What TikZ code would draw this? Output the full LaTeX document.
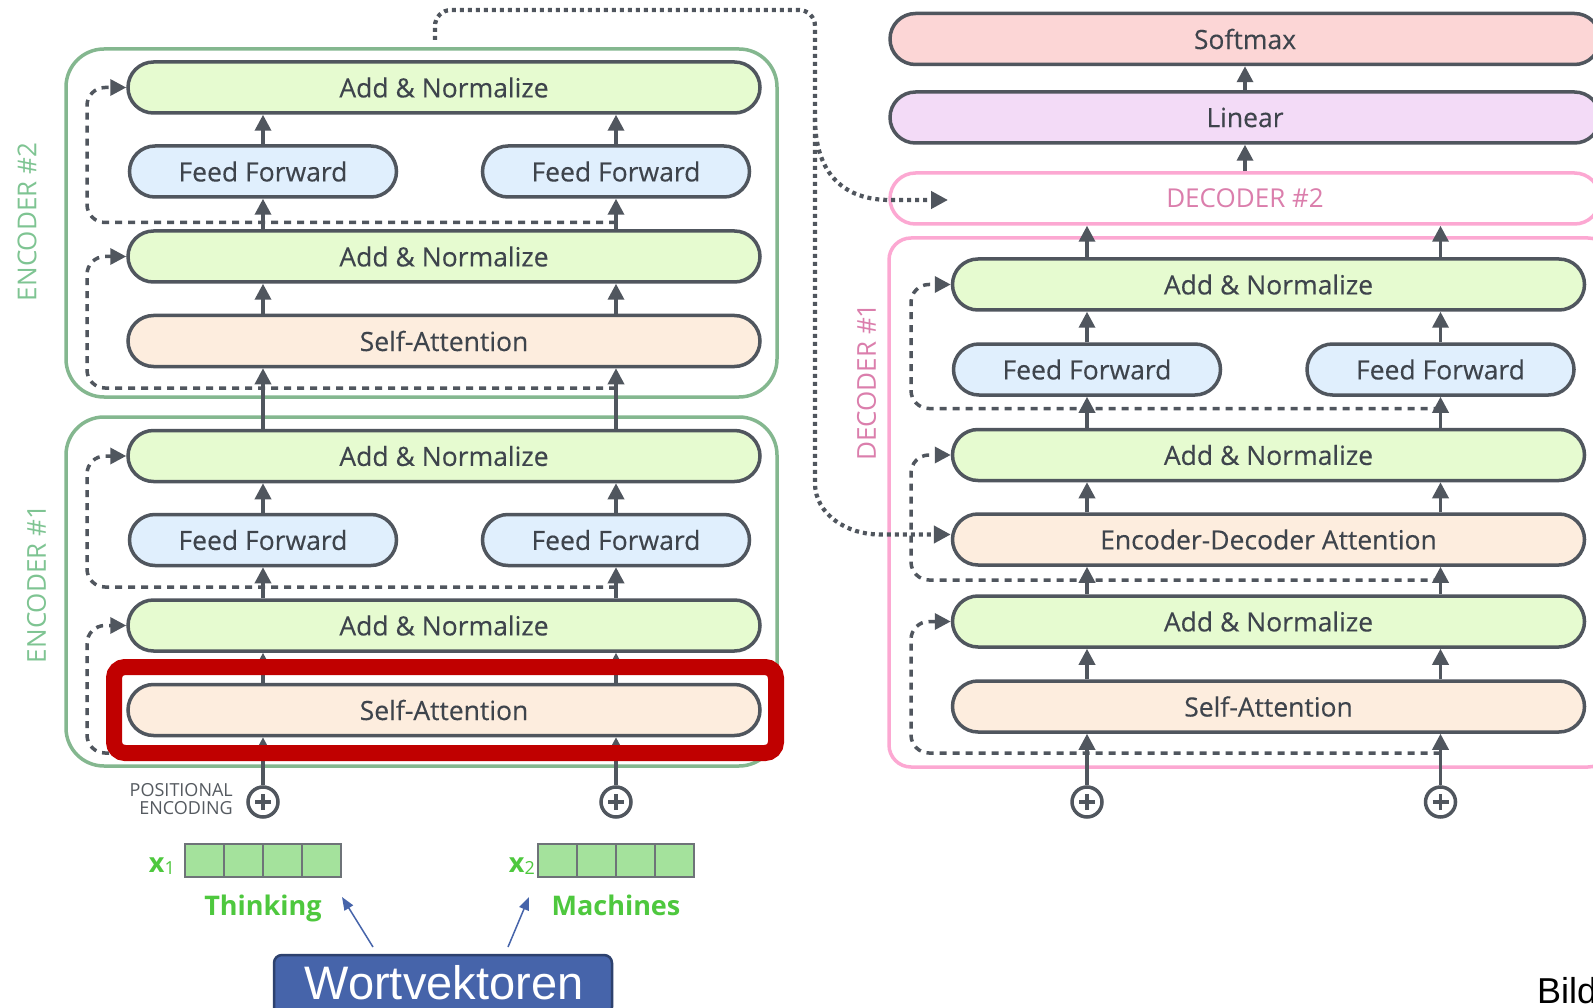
\documentclass[tikz,border=0pt]{standalone}
\usepackage{fontspec}
\setmainfont{Open Sans}
\newfontfamily\boxfont[FakeBold=0.25]{Open Sans}
\newfontfamily\arialfont{Liberation Sans}
\usetikzlibrary{shapes.misc,arrows.meta}
\definecolor{ink}{RGB}{80,86,94}
\definecolor{txt}{RGB}{62,68,76}
\definecolor{anfill}{RGB}{230,251,208}
\definecolor{fffill}{RGB}{224,239,253}
\definecolor{safill}{RGB}{253,237,222}
\definecolor{smfill}{RGB}{252,214,214}
\definecolor{linfill}{RGB}{243,219,247}
\definecolor{encgreen}{RGB}{132,183,143}
\definecolor{enctext}{RGB}{126,196,146}
\definecolor{decpink}{RGB}{252,168,210}
\definecolor{dectext}{RGB}{219,126,172}
\definecolor{redbox}{RGB}{192,0,0}
\definecolor{vecfill}{RGB}{164,226,156}
\definecolor{cellborder}{RGB}{110,115,120}
\definecolor{wordgreen}{RGB}{78,200,62}
\definecolor{wblue}{RGB}{70,100,170}
\definecolor{wborder}{RGB}{45,65,110}
\definecolor{poscol}{RGB}{85,90,96}
\begin{document}
\begin{tikzpicture}[x=1pt,y=-1pt,
  blk/.style={rounded rectangle, draw=ink, line width=3.5pt, minimum height=51pt, inner sep=0pt, text=txt, font=\boxfont\fontsize{26.5}{30}\selectfont},
  anbox/.style={blk, fill=anfill, minimum width=632pt},
  ffbox/.style={blk, fill=fffill, minimum width=267pt},
  sabox/.style={blk, fill=safill, minimum width=632pt},
  topbox/.style={blk, minimum width=710pt},
  frameenc/.style={draw=encgreen, line width=3.5pt, rounded corners=38pt},
  framedec/.style={draw=decpink, line width=3.5pt, rounded corners=22pt},
  flow/.style={draw=ink, line width=3.5pt, -{Triangle[length=16pt,width=16pt]}},
  resid/.style={draw=ink, line width=3.5pt, dash pattern=on 7pt off 6pt, rounded corners=18pt, -{Triangle[length=16pt,width=16pt]}},
  dotty/.style={draw=ink, line width=4.2pt, dash pattern=on 4pt off 4pt, -{Triangle[length=17pt,width=17pt]}},
  plusnode/.style={circle, draw=ink, line width=3.5pt, minimum size=30pt, inner sep=0pt, fill=white,
    path picture={\draw[ink, line width=3.5pt] ([xshift=-8pt]path picture bounding box.center) -- ([xshift=8pt]path picture bounding box.center)
      ([yshift=-8pt]path picture bounding box.center) -- ([yshift=8pt]path picture bounding box.center);}},
  layerlbl/.style={rotate=90, font=\fontsize{26}{30}\selectfont, inner sep=0pt},
  cell/.style={draw=cellborder, line width=1.5pt, fill=vecfill, minimum width=39pt, minimum height=33pt, inner sep=0pt},
  wordlbl/.style={text=wordgreen, font=\fontsize{27}{30}\selectfont\bfseries, inner sep=0pt},
  wortbox/.style={draw=wborder, line width=2.5pt, fill=wblue, rounded corners=8pt, minimum width=338pt, minimum height=60pt, inner sep=0pt},
  worttext/.style={text=white, font=\arialfont\fontsize{47}{50}\selectfont, inner sep=0pt},
  bluearr/.style={draw=wblue, line width=1.5pt, -{Triangle[length=13pt,width=10pt]}}
]
\useasboundingbox (0,0) rectangle (1593,1008);
\clip (0,0) rectangle (1593,1008);
\fill[white] (0,0) rectangle (1593,1008);

% column coordinates
\coordinate (ec1) at (263,0);
\coordinate (ec2) at (616,0);
\coordinate (dc1) at (1087,0);
\coordinate (dc2) at (1440.5,0);

% frames
\draw[frameenc] (66,49) rectangle (777,397);
\draw[frameenc] (66,417) rectangle (777,766);
\draw[framedec] (889,238) rectangle (1610,767);

% layer labels
\node[layerlbl, text=enctext] (enc2lbl) at (27,222) {ENCODER \#2};
\node[layerlbl, text=enctext] (enc1lbl) at (36.5,584) {ENCODER \#1};
\node[layerlbl, text=dectext] (dec1lbl) at (866.5,382) {DECODER \#1};

% encoder #2
\node[anbox] (e2an2) at (444,87.5) {Add \& Normalize};
\node[ffbox] (e2ff1) at (263,171.5) {Feed Forward};
\node[ffbox] (e2ff2) at (616,171.5) {Feed Forward};
\node[anbox] (e2an1) at (444,256.5) {Add \& Normalize};
\node[sabox] (e2sa) at (444,341) {Self-Attention};
% encoder #1
\node[anbox] (e1an2) at (444,456) {Add \& Normalize};
\node[ffbox] (e1ff1) at (263,540) {Feed Forward};
\node[ffbox] (e1ff2) at (616,540) {Feed Forward};
\node[anbox] (e1an1) at (444,625.5) {Add \& Normalize};
\node[sabox] (e1sa) at (444,710) {Self-Attention};

% decoder
\node[topbox, fill=smfill] (sm) at (1245,39) {Softmax};
\node[topbox, fill=linfill] (lin) at (1245,117.5) {Linear};
\node[topbox, draw=decpink, fill=white, text=dectext, font=\fontsize{26}{30}\selectfont] (dec2) at (1245,198.5) {DECODER \#2};
\node[anbox] (dan3) at (1268.5,284.5) {Add \& Normalize};
\node[ffbox] (dff1) at (1087,369.5) {Feed Forward};
\node[ffbox] (dff2) at (1440.5,369.5) {Feed Forward};
\node[anbox] (dan2) at (1268.5,455) {Add \& Normalize};
\node[sabox] (ded) at (1268.5,539.5) {Encoder-Decoder Attention};
\node[anbox] (dan1) at (1268.5,621.5) {Add \& Normalize};
\node[sabox] (dsa) at (1268.5,706.5) {Self-Attention};

% positional encoding
\node[plusnode] (pe1) at (263,802) {};
\node[plusnode] (pe2) at (616,802) {};
\node[plusnode] (pd1) at (1087,802) {};
\node[plusnode] (pd2) at (1440.5,802) {};
\node[anchor=east, align=right, text=poscol, font=\fontsize{18}{18.5}\selectfont, inner sep=0pt] (posenc) at (233,799) {POSITIONAL\\ENCODING};

% residual connections
\coordinate (re2u) at (616,222.5);
\coordinate (re2l) at (616,388);
\coordinate (re1u) at (616,587);
\coordinate (re1l) at (616,753);
\coordinate (rdu) at (1440.5,408.5);
\coordinate (rdm) at (1440.5,580);
\coordinate (rdl) at (1440.5,753);
\draw[resid] (re2u) -- (87,222.5) -- (87,87.5) -- (e2an2.west);
\draw[resid] (re2l) -- (87,388) -- (87,256.5) -- (e2an1.west);
\draw[resid] (re1u) -- (87,587) -- (87,456) -- (e1an2.west);
\draw[resid] (re1l) -- (87,753) -- (87,625.5) -- (e1an1.west);
\draw[resid] (rdu) -- (911,408.5) -- (911,284.5) -- (dan3.west);
\draw[resid] (rdm) -- (911,580) -- (911,455) -- (dan2.west);
\draw[resid] (rdl) -- (911,753) -- (911,621.5) -- (dan1.west);

% encoder flow arrows
\foreach \c/\i in {ec1/1, ec2/2} {
  \draw[flow] (pe\i.north) -- (e1sa.south -| \c);
  \draw[flow] (e1sa.north -| \c) -- (e1an1.south -| \c);
  \draw[flow] (e1an1.north -| \c) -- (e1ff\i.south);
  \draw[flow] (e1ff\i.north) -- (e1an2.south -| \c);
  \draw[flow] (e1an2.north -| \c) -- (e2sa.south -| \c);
  \draw[flow] (e2sa.north -| \c) -- (e2an1.south -| \c);
  \draw[flow] (e2an1.north -| \c) -- (e2ff\i.south);
  \draw[flow] (e2ff\i.north) -- (e2an2.south -| \c);
}
% decoder flow arrows
\foreach \c/\i in {dc1/1, dc2/2} {
  \draw[flow] (pd\i.north) -- (dsa.south -| \c);
  \draw[flow] (dsa.north -| \c) -- (dan1.south -| \c);
  \draw[flow] (dan1.north -| \c) -- (ded.south -| \c);
  \draw[flow] (ded.north -| \c) -- (dan2.south -| \c);
  \draw[flow] (dan2.north -| \c) -- (dff\i.south);
  \draw[flow] (dff\i.north) -- (dan3.south -| \c);
  \draw[flow] (dan3.north -| \c) -- (dec2.south -| \c);
}
\draw[flow] (dec2.north) -- (lin.south);
\draw[flow] (lin.north) -- (sm.south);

% encoder output to decoders (dotted)
\coordinate (dtop) at (435,40);
\coordinate (dsplit) at (815,118);
\coordinate (d2in) at (948,200);
\draw[dotty, rounded corners=16pt] (dtop) -- (435,10) -- (815,10) -- (815,467) .. controls (815,515) and (848,534.5) .. (895,534.5) -- ([yshift=5pt]ded.west);
\draw[dotty] (dsplit) .. controls (815,175) and (845,200) .. (890,200) -- (d2in);

% highlight
\draw[redbox, line width=16pt, rounded corners=11pt] (114,667) rectangle (776,753);

% word vectors
\node[cell] (v1a) at (204.5,860.5) {};
\node[cell] (v1b) at (243.5,860.5) {};
\node[cell] (v1c) at (282.5,860.5) {};
\node[cell] (v1d) at (321.5,860.5) {};
\node[cell] (v2a) at (557.5,860.5) {};
\node[cell] (v2b) at (596.5,860.5) {};
\node[cell] (v2c) at (635.5,860.5) {};
\node[cell] (v2d) at (674.5,860.5) {};
\node[anchor=base east, text=wordgreen, inner sep=0pt] (x1lbl) at (175,872) {{\fontsize{27}{27}\selectfont\bfseries x}\raisebox{-2pt}{\fontsize{18}{18}\selectfont 1}};
\node[anchor=base east, text=wordgreen, inner sep=0pt] (x2lbl) at (535,872) {{\fontsize{27}{27}\selectfont\bfseries x}\raisebox{-2pt}{\fontsize{18}{18}\selectfont 2}};
\node[wordlbl, anchor=base] (think) at (263,915) {Thinking};
\node[wordlbl, anchor=base] (mach) at (616,915) {Machines};

% Wortvektoren
\node[wortbox] (wort) at (443,985) {};
\node[worttext, anchor=base] (worttxt) at (444,999) {Wortvektoren};
\coordinate (ba1s) at (373,947);
\coordinate (ba1e) at (342,897);
\coordinate (ba2s) at (508,947);
\coordinate (ba2e) at (529,897);
\draw[bluearr] (ba1s) -- (ba1e);
\draw[bluearr] (ba2s) -- (ba2e);

\node[anchor=base west, inner sep=0pt, font=\arialfont\fontsize{36}{40}\selectfont] (bild) at (1537,1003) {Bild};
\end{tikzpicture}
\end{document}
